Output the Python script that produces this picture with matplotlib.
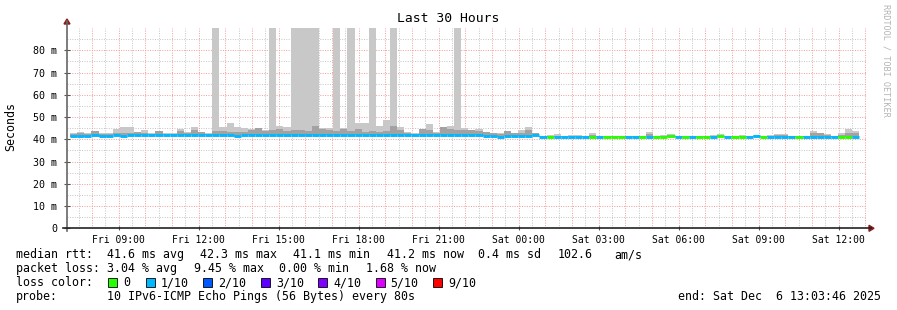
"""
SmokePing style latency chart: Last 30 Hours.
"""
import numpy as np
import matplotlib
matplotlib.use("Agg")
import matplotlib.pyplot as plt
from matplotlib.lines import Line2D
from matplotlib.patches import Rectangle, Polygon

# ---------------------------------------------------------------------------
# Data (ms), one entry per 16 minute step, start 07:10 Fri
# ---------------------------------------------------------------------------
smoke_hi = [
    42.8, 43.1, 42.8, 43.7, 42.8, 42.8, 44.8, 45.5, 45.5, 43.1,
    44.2, 42.6, 43.7, 42.9, 42.6, 44.8, 43.2, 45.5, 43.1, 42.6,
    100, 45.5, 47.3, 45.5, 45.0, 44.6, 45.1, 44.2, 100, 46.0,
    45.4, 100, 100, 100, 100, 45.1, 45.1, 100, 45.1, 100,
    47.3, 47.3, 100, 46.0, 48.7, 100, 45.5, 43.1, 42.8, 44.8,
    46.8, 43.1, 45.5, 46.0, 100, 45.1, 44.3, 44.6, 43.4, 43.0,
    42.8, 43.6, 43.0, 44.2, 45.5, 43.0, 41.6, 42.0, 42.2, 41.6,
    42.0, 42.0, 41.6, 42.8, 41.6, 41.6, 41.6, 41.6, 41.6, 41.6,
    41.6, 43.4, 41.6, 42.0, 42.2, 41.6, 41.6, 41.6, 41.6, 41.6,
    42.0, 42.2, 41.6, 41.6, 41.8, 41.6, 41.8, 41.6, 42.0, 42.2,
    42.2, 41.6, 41.6, 41.6, 43.7, 43.0, 42.4, 41.6, 42.8, 44.6,
    43.7,
]
smoke_mid = [
    42.5, 42.6, 42.5, 43.7, 42.5, 42.5, 42.6, 42.6, 42.8, 43.1,
    42.6, 42.4, 43.7, 42.5, 42.4, 43.7, 42.8, 44.2, 43.1, 42.4,
    43.7, 43.7, 43.1, 43.1, 43.1, 44.2, 45.1, 43.5, 44.2, 44.8,
    43.5, 44.2, 44.2, 43.5, 46.0, 44.8, 44.2, 43.5, 44.8, 43.5,
    44.8, 43.1, 43.5, 43.1, 43.5, 46.0, 44.2, 42.8, 42.5, 44.8,
    44.2, 42.8, 45.5, 44.8, 44.2, 44.2, 44.3, 43.6, 43.2, 42.6,
    42.4, 43.6, 42.6, 42.8, 44.3, 42.8, 41.4, 41.4, 41.6, 41.4,
    41.6, 41.6, 41.4, 41.8, 41.4, 41.4, 41.4, 41.4, 41.4, 41.4,
    41.4, 42.2, 41.4, 41.6, 41.8, 41.4, 41.4, 41.4, 41.4, 41.4,
    41.6, 41.8, 41.4, 41.4, 41.5, 41.4, 41.5, 41.4, 41.6, 41.8,
    41.8, 41.4, 41.4, 41.4, 42.8, 42.6, 42.0, 41.4, 42.0, 43.0,
    42.6,
]
median_ms = [
    41.4, 41.4, 41.4, 42.0, 41.4, 41.4, 42.0, 41.4, 42.0, 42.0,
    42.0, 42.0, 42.0, 42.0, 42.0, 42.0, 42.0, 42.0, 42.0, 42.0,
    42.0, 42.0, 42.0, 41.4, 42.0, 42.0, 42.0, 42.0, 42.0, 42.0,
    42.0, 42.0, 42.0, 42.0, 42.0, 42.0, 42.0, 42.0, 42.0, 42.0,
    42.0, 42.0, 42.0, 42.0, 42.0, 42.0, 42.0, 42.0, 42.0, 42.0,
    42.0, 42.0, 42.0, 42.0, 42.0, 42.0, 42.0, 42.0, 41.6, 41.6,
    41.1, 41.6, 41.6, 41.6, 41.6, 41.8, 41.2, 41.2, 41.2, 41.2,
    41.2, 41.2, 41.2, 41.2, 41.2, 41.2, 41.2, 41.2, 41.2, 41.2,
    41.2, 41.2, 41.2, 41.2, 41.5, 41.2, 41.2, 41.2, 41.2, 41.2,
    41.2, 41.5, 41.2, 41.2, 41.2, 41.2, 41.3, 41.2, 41.2, 41.2,
    41.2, 41.2, 41.2, 41.2, 41.2, 41.2, 41.2, 41.2, 41.2, 41.2,
    41.2,
]
loss_tenths = [1] * 66 + [
    1, 0, 1, 1, 1, 1, 1, 0, 1, 0,
    0, 0, 1, 1, 0, 1, 0, 0, 0, 1,
    0, 1, 0, 0, 1, 0, 1, 0, 0, 1,
    1, 0, 1, 1, 1, 1, 0, 1, 1, 1,
    1, 1, 0, 0, 1,
]

hour_labels = ["Fri 09:00", "Fri 12:00", "Fri 15:00", "Fri 18:00", "Fri 21:00",
               "Sat 00:00", "Sat 03:00", "Sat 06:00", "Sat 09:00", "Sat 12:00"]
y_ticks = [0, 10, 20, 30, 40, 50, 60, 70, 80]
y_labels = ["0"] + [f"{v} m" for v in y_ticks[1:]]

loss_keys = ["0", "1/10", "2/10", "3/10", "4/10", "5/10", "9/10"]
loss_cols = ["#26ff00", "#00b8ff", "#0059ff", "#5e00ff", "#7e00ff", "#dd00ff", "#ff0000"]
loss_colour = {0: "#26ff00", 1: "#00b8ff", 2: "#0059ff", 3: "#5e00ff",
               4: "#7e00ff", 5: "#dd00ff", 9: "#ff0000"}

# time in hours since start of window (Fri 07:03:46)
T0 = 7 / 60.0
STEP = 16 / 60.0
FIRST_LABEL = 1 + 56 / 60 + 14 / 3600   # Fri 09:00

W, H = 897, 310
MONO = "DejaVu Sans Mono"


def fx(x):
    return x / W


def fy(y):
    return 1 - y / H


fig = plt.figure(figsize=(W / 100, H / 100), dpi=100)
fig.patch.set_facecolor("white")

ax_left, ax_right, ax_top, ax_bot = 67, 867, 28, 228.3
ax = fig.add_axes([fx(ax_left), fy(ax_bot), (ax_right - ax_left) / W, (ax_bot - ax_top) / H])
ax.set_xlim(0, 30)
ax.set_ylim(0, 90)
for s in ax.spines.values():
    s.set_visible(False)

# grid
for k in range(30):
    ax.axvline(FIRST_LABEL - 1 + k, color="#f49a9a", lw=0.7, ls=(0, (1, 1.5)), zorder=1)
for k in range(60):
    t = FIRST_LABEL - 1.5 + k
    if 0 < t < 30:
        ax.axvline(t, color="#c4c4c4", lw=0.7, ls=(0, (1, 1.5)), zorder=0.9)
for v in range(10, 90, 10):
    ax.axhline(v, color="#f49a9a", lw=0.7, ls=(0, (1, 1.5)), zorder=1)
for v in range(5, 90, 10):
    ax.axhline(v, color="#c4c4c4", lw=0.7, ls=(0, (1, 1.5)), zorder=0.9)

# smoke + median
n = len(median_ms)
x0 = T0 + np.arange(n) * STEP
med = np.array(median_ms)
hi = np.array(smoke_hi)
mid = np.array(smoke_mid)
lo = med - 0.3
ax.bar(x0, hi - lo, bottom=lo, width=STEP, align="edge", color="#c8c8c8", lw=0, zorder=2)
ax.bar(x0, np.maximum(mid - lo, 0), bottom=lo, width=STEP, align="edge", color="#a2a2a2", lw=0, zorder=3)
ax.hlines(med, x0, x0 + STEP, colors=[loss_colour[l] for l in loss_tenths], lw=2.1, zorder=4)

# ticks
ax.set_xticks([FIRST_LABEL + 3 * k for k in range(10)])
ax.set_xticklabels(hour_labels, fontfamily=MONO, fontsize=7)
ax.set_yticks(y_ticks)
ax.set_yticklabels(y_labels, fontfamily=MONO, fontsize=7.2)
ax.tick_params(axis="x", length=3, direction="inout", color="#555555", pad=3)
ax.tick_params(axis="y", length=4, direction="inout", color="#555555", pad=5)

# axes lines and arrows
fig.add_artist(Line2D([fx(ax_left), fx(ax_left)], [fy(ax_bot + 3), fy(21)], color="#666666", lw=1.2))
fig.add_artist(Line2D([fx(ax_left - 4), fx(871)], [fy(ax_bot), fy(ax_bot)], color="#222222", lw=1.2))
fig.add_artist(Polygon([[fx(64), fy(24)], [fx(70), fy(24)], [fx(67), fy(19)]],
                       closed=True, color="#8b1a1a"))
fig.add_artist(Polygon([[fx(869), fy(ax_bot - 3)], [fx(869), fy(ax_bot + 3)], [fx(874), fy(ax_bot)]],
                       closed=True, color="#8b1a1a"))

# titles
fig.text(fx(448), fy(19), "Last 30 Hours", ha="center", va="center", fontfamily=MONO, fontsize=9.4)
fig.text(fx(11), fy(126.5), "Seconds", rotation=90, ha="center", va="center",
         fontfamily=MONO, fontsize=8.4)
fig.text(fx(886), fy(4), "RRDTOOL / TOBI OETIKER", rotation=270, ha="center", va="top",
         fontfamily=MONO, fontsize=6.1, color="#b4b4b4")

# legend block
ln = [254.7, 268.5, 282.7, 296.7]
rows = [
    (ln[0], [(16, "median rtt:"), (107.3, "41.6 ms avg"), (200, "42.3 ms max"),
             (293.3, "41.1 ms min"), (386.7, "41.2 ms now"), (478, "0.4 ms sd"),
             (558, "102.6"), (614, "am/s")]),
    (ln[1], [(16, "packet loss:"), (107.3, "3.04 % avg"), (194, "9.45 % max"),
             (279.3, "0.00 % min"), (366, "1.68 % now")]),
    (ln[2], [(16, "loss color:")]),
    (ln[3], [(16, "probe:"), (107.3, "10 IPv6-ICMP Echo Pings (56 Bytes) every 80s"),
             (678, "end: Sat Dec  6 13:03:46 2025")]),
]
for y, segs in rows:
    for x, s in segs:
        fig.text(fx(x), fy(y), s, ha="left", va="center", fontfamily=MONO, fontsize=8.4)

sq_x = [108.3, 145.7, 203.3, 261, 318.3, 375.7, 433.3]
for x, key, col in zip(sq_x, loss_keys, loss_cols):
    fig.add_artist(Rectangle((fx(x), fy(ln[2] + 4.5)), 9 / W, 9 / H, facecolor=col,
                             edgecolor="black", lw=0.6))
    fig.text(fx(x + 15), fy(ln[2]), key, ha="left", va="center", fontfamily=MONO, fontsize=8.4)

fig.savefig("out.png", dpi=100)
